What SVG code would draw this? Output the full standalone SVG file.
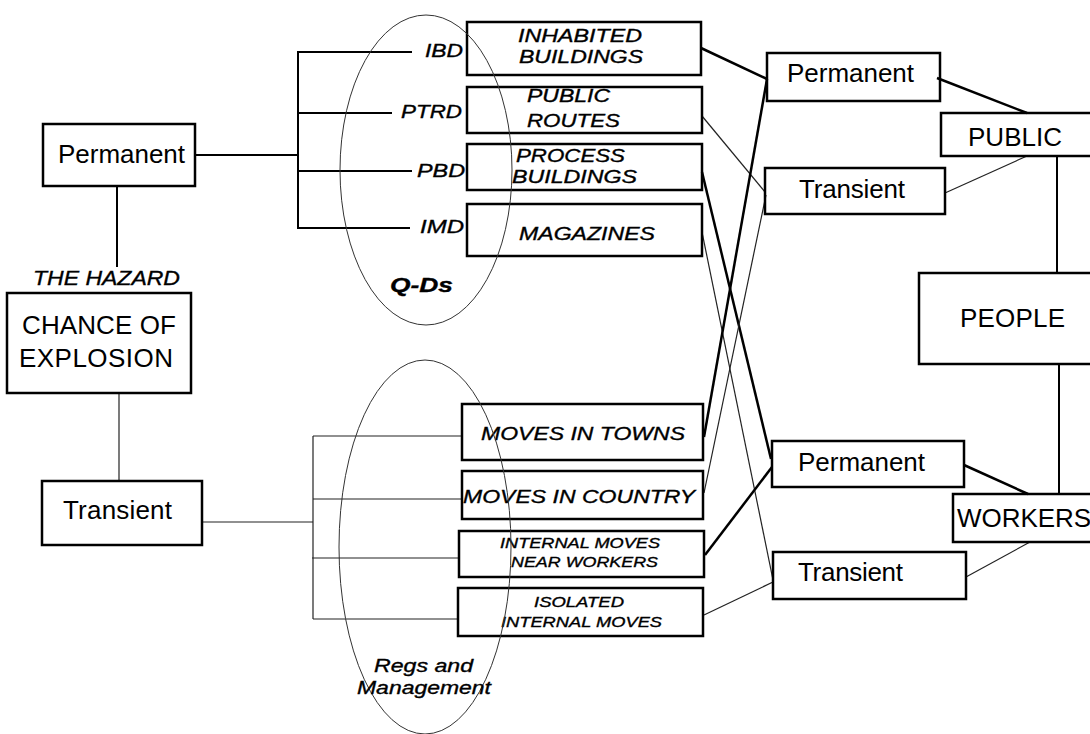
<svg xmlns="http://www.w3.org/2000/svg" width="1090" height="734" viewBox="0 0 1090 734">
<style>
.box{fill:none;stroke:#000;stroke-width:2.5}
.t{font-family:"Liberation Sans",Arial,sans-serif;font-size:26px;fill:#000}
.i{font-family:"Liberation Sans",Arial,sans-serif;font-style:italic;fill:#000;stroke:#000;stroke-width:0.35}
.thick{stroke:#000;stroke-width:2.5;fill:none}
.med{stroke:#000;stroke-width:2;fill:none}
.thin{stroke:#222;stroke-width:1.2;fill:none}
.ell{stroke:#333;stroke-width:1;fill:none}
</style>
<rect width="1090" height="734" fill="#fff"/>
<g id="connectors">
<line class="med" x1="117" y1="186" x2="117" y2="267"/>
<line class="thin" x1="119" y1="393" x2="119" y2="481"/>
<line class="med" x1="195" y1="155" x2="298" y2="155"/>
<line class="med" x1="298" y1="52" x2="298" y2="228"/>
<line class="med" x1="297" y1="52" x2="412" y2="52"/>
<line class="med" x1="297" y1="113" x2="392" y2="113"/>
<line class="med" x1="297" y1="171" x2="412" y2="171"/>
<line class="med" x1="297" y1="228" x2="410" y2="228"/>
<line class="thin" x1="202" y1="522" x2="313" y2="522"/>
<line class="thin" x1="313" y1="436" x2="313" y2="619"/>
<line class="thin" x1="313" y1="436" x2="462" y2="436"/>
<line class="thin" x1="313" y1="499" x2="462" y2="499"/>
<line class="thin" x1="312" y1="558" x2="459" y2="558"/>
<line class="thin" x1="313" y1="619" x2="458" y2="619"/>
<line class="thick" x1="701" y1="48" x2="767" y2="79"/>
<line class="thin" x1="702" y1="116" x2="765" y2="192"/>
<line class="thick" x1="702" y1="172" x2="771" y2="459"/>
<line class="thin" x1="702" y1="232" x2="773" y2="580"/>
<line class="thick" x1="704" y1="437" x2="767" y2="79"/>
<line class="thin" x1="704" y1="493" x2="766" y2="195"/>
<line class="thick" x1="705" y1="555" x2="772" y2="467"/>
<line class="thin" x1="704" y1="615" x2="773" y2="582"/>
<line class="thick" x1="937" y1="78" x2="1027" y2="113"/>
<line class="thin" x1="945" y1="193" x2="1027" y2="156"/>
<line class="med" x1="1057" y1="156" x2="1057" y2="273"/>
<line class="med" x1="1059" y1="364" x2="1059" y2="494"/>
<line class="thick" x1="964" y1="465" x2="1028" y2="494"/>
<line class="thin" x1="966" y1="577" x2="1030" y2="542"/>
</g>
<g id="permanent-left"><rect class="box" x="43" y="124" width="152" height="62"/><text class="t" x="58" y="163" textLength="127">Permanent</text></g>
<g id="hazard-label"><text class="i" x="33" y="285" font-size="20" textLength="147" lengthAdjust="spacingAndGlyphs">THE HAZARD</text></g>
<g id="chance"><rect class="box" x="7" y="293" width="184" height="100"/><text class="t" x="22" y="334" textLength="154">CHANCE OF</text><text class="t" x="19" y="367" textLength="154">EXPLOSION</text></g>
<g id="transient-left"><rect class="box" x="42" y="481" width="160" height="64"/><text class="t" x="63" y="519" textLength="109">Transient</text></g>
<g id="qd-labels">
<text class="i" x="425" y="57" font-size="18" textLength="38" lengthAdjust="spacingAndGlyphs">IBD</text>
<text class="i" x="401" y="118" font-size="18" textLength="61" lengthAdjust="spacingAndGlyphs">PTRD</text>
<text class="i" x="417" y="177" font-size="18" textLength="48" lengthAdjust="spacingAndGlyphs">PBD</text>
<text class="i" x="420" y="233" font-size="18" textLength="44" lengthAdjust="spacingAndGlyphs">IMD</text>
</g>
<g id="inhabited"><rect class="box" x="467" y="22" width="234" height="53"/><text class="i" x="518" y="42" font-size="18" textLength="124" lengthAdjust="spacingAndGlyphs">INHABITED</text><text class="i" x="519" y="63" font-size="18" textLength="124" lengthAdjust="spacingAndGlyphs">BUILDINGS</text></g>
<g id="public-routes"><rect class="box" x="467" y="87" width="235" height="46"/><text class="i" x="527" y="102" font-size="18" textLength="83" lengthAdjust="spacingAndGlyphs">PUBLIC</text><text class="i" x="527" y="127" font-size="18" textLength="93" lengthAdjust="spacingAndGlyphs">ROUTES</text></g>
<g id="process"><rect class="box" x="467" y="144" width="235" height="46"/><text class="i" x="516" y="162" font-size="18" textLength="109" lengthAdjust="spacingAndGlyphs">PROCESS</text><text class="i" x="512" y="183" font-size="18" textLength="125" lengthAdjust="spacingAndGlyphs">BUILDINGS</text></g>
<g id="magazines"><rect class="box" x="467" y="204" width="235" height="52"/><text class="i" x="519" y="240" font-size="18" textLength="136" lengthAdjust="spacingAndGlyphs">MAGAZINES</text></g>
<g id="towns"><rect class="box" x="462" y="404" width="241" height="56"/><text class="i" x="481" y="440" font-size="19" textLength="204" lengthAdjust="spacingAndGlyphs">MOVES IN TOWNS</text></g>
<g id="country"><rect class="box" x="462" y="471" width="241" height="48"/><text class="i" x="463" y="503" font-size="19" textLength="232" lengthAdjust="spacingAndGlyphs">MOVES IN COUNTRY</text></g>
<g id="near-workers"><rect class="box" x="459" y="531" width="245" height="46"/><text class="i" x="500" y="548" font-size="15" textLength="160" lengthAdjust="spacingAndGlyphs">INTERNAL MOVES</text><text class="i" x="511" y="567" font-size="15" textLength="147" lengthAdjust="spacingAndGlyphs">NEAR WORKERS</text></g>
<g id="isolated"><rect class="box" x="458" y="588" width="245" height="48"/><text class="i" x="534" y="607" font-size="15" textLength="90" lengthAdjust="spacingAndGlyphs">ISOLATED</text><text class="i" x="501" y="627" font-size="15" textLength="161" lengthAdjust="spacingAndGlyphs">INTERNAL MOVES</text></g>
<g id="permanent-public"><rect class="box" x="767" y="53" width="173" height="48"/><text class="t" x="787" y="82" textLength="127">Permanent</text></g>
<g id="transient-public"><rect class="box" x="765" y="168" width="180" height="46"/><text class="t" x="799" y="198" textLength="106">Transient</text></g>
<g id="public"><rect class="box" x="941" y="113" width="160" height="43"/><text class="t" x="968" y="146" textLength="94">PUBLIC</text></g>
<g id="people"><rect class="box" x="919" y="273" width="180" height="91"/><text class="t" x="960" y="327" textLength="105">PEOPLE</text></g>
<g id="permanent-workers"><rect class="box" x="772" y="441" width="192" height="46"/><text class="t" x="798" y="471" textLength="127">Permanent</text></g>
<g id="workers"><rect class="box" x="953" y="494" width="150" height="48"/><text class="t" x="957" y="527" textLength="134">WORKERS</text></g>
<g id="transient-workers"><rect class="box" x="773" y="552" width="193" height="47"/><text class="t" x="798" y="581" textLength="105">Transient</text></g>
<g id="qds-group">
<ellipse class="ell" cx="426" cy="170" rx="86" ry="155"/>
<text class="i" x="390" y="292" font-size="21" font-weight="bold" textLength="63" lengthAdjust="spacingAndGlyphs">Q-Ds</text>
</g>
<g id="regs-group">
<ellipse class="ell" cx="425" cy="547" rx="86" ry="187"/>
<text class="i" x="374" y="672" font-size="18" textLength="99" lengthAdjust="spacingAndGlyphs">Regs and</text>
<text class="i" x="357" y="694" font-size="18" textLength="134" lengthAdjust="spacingAndGlyphs">Management</text>
</g>
</svg>
